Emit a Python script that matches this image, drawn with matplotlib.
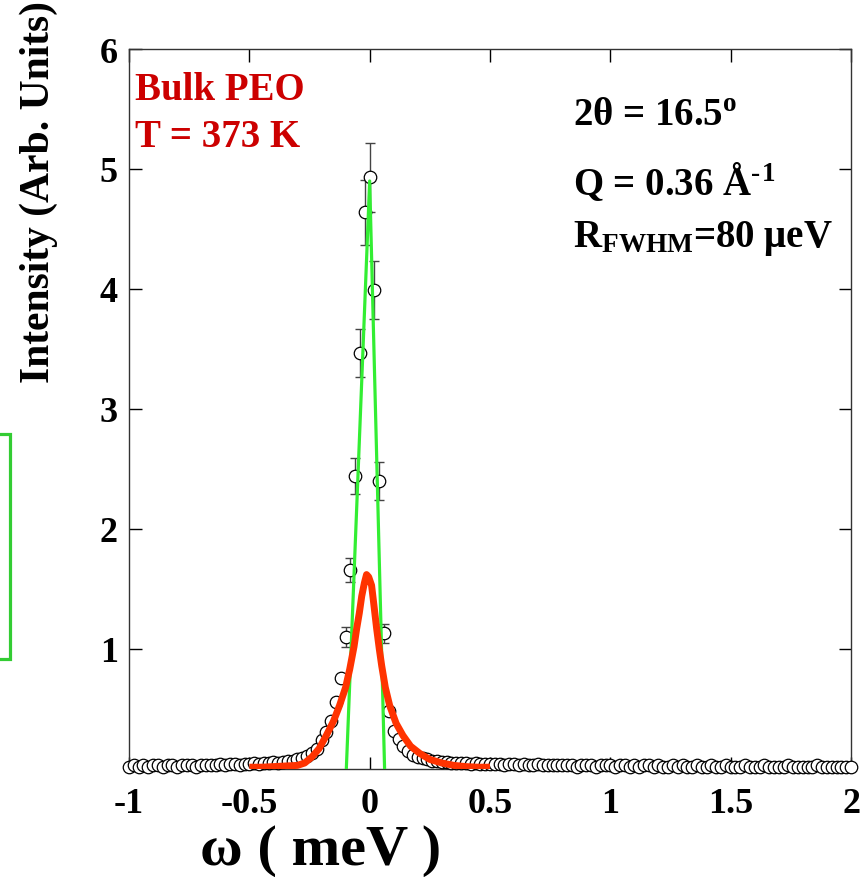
import matplotlib
matplotlib.use('Agg')
import matplotlib.pyplot as plt
from matplotlib.patches import Rectangle

plt.rcParams['font.family'] = ['Liberation Serif', 'DejaVu Serif']
plt.rcParams['font.weight'] = 'bold'
plt.rcParams['mathtext.default'] = 'regular'

# ==============================================================
# DADOS
# ==============================================================

omega = [
    -1.00, -0.98, -0.96, -0.94, -0.92, -0.90, -0.88, -0.86, -0.84, -0.82,
    -0.80, -0.78, -0.76, -0.74, -0.72, -0.70, -0.68, -0.66, -0.64, -0.62,
    -0.60, -0.58, -0.56, -0.54, -0.52, -0.50, -0.48, -0.46, -0.44, -0.42,
    -0.40, -0.38, -0.36, -0.34, -0.32, -0.30, -0.28, -0.26, -0.24, -0.22,
    -0.20, -0.18, -0.16, -0.14, -0.12, -0.10, -0.08, -0.06, -0.04, -0.02,
    0.00, 0.02, 0.04, 0.06, 0.08, 0.10, 0.12, 0.14, 0.16, 0.18,
    0.20, 0.22, 0.24, 0.26, 0.28, 0.30, 0.32, 0.34, 0.36, 0.38,
    0.40, 0.42, 0.44, 0.46, 0.48, 0.50, 0.52, 0.54, 0.56, 0.58,
    0.60, 0.62, 0.64, 0.66, 0.68, 0.70, 0.72, 0.74, 0.76, 0.78,
    0.80, 0.82, 0.84, 0.86, 0.88, 0.90, 0.92, 0.94, 0.96, 0.98,
    1.00, 1.02, 1.04, 1.06, 1.08, 1.10, 1.12, 1.14, 1.16, 1.18,
    1.20, 1.22, 1.24, 1.26, 1.28, 1.30, 1.32, 1.34, 1.36, 1.38,
    1.40, 1.42, 1.44, 1.46, 1.48, 1.50, 1.52, 1.54, 1.56, 1.58,
    1.60, 1.62, 1.64, 1.66, 1.68, 1.70, 1.72, 1.74, 1.76, 1.78,
    1.80, 1.82, 1.84, 1.86, 1.88, 1.90, 1.92, 1.94, 1.96, 1.98,
    2.00,
]

intensidade = [
    0.02, 0.03, 0.02, 0.03, 0.02, 0.03, 0.03, 0.02, 0.03, 0.03,
    0.02, 0.03, 0.03, 0.03, 0.02, 0.03, 0.03, 0.03, 0.03, 0.04,
    0.03, 0.04, 0.04, 0.03, 0.04, 0.04, 0.05, 0.04, 0.05, 0.05,
    0.06, 0.05, 0.06, 0.07, 0.07, 0.08, 0.09, 0.11, 0.13, 0.17,
    0.24, 0.31, 0.40, 0.56, 0.76, 1.10, 1.66, 2.44, 3.47, 4.64,
    4.93, 3.99, 2.40, 1.13, 0.48, 0.32, 0.25, 0.19, 0.15, 0.12,
    0.10, 0.09, 0.08, 0.07, 0.07, 0.06, 0.06, 0.05, 0.05, 0.05,
    0.05, 0.04, 0.05, 0.04, 0.04, 0.04, 0.04, 0.04, 0.03, 0.04,
    0.04, 0.03, 0.04, 0.03, 0.03, 0.04, 0.03, 0.03, 0.03, 0.03,
    0.03, 0.03, 0.03, 0.02, 0.03, 0.03, 0.03, 0.02, 0.03, 0.03,
    0.03, 0.02, 0.03, 0.03, 0.02, 0.03, 0.02, 0.03, 0.03, 0.02,
    0.03, 0.02, 0.02, 0.03, 0.02, 0.03, 0.02, 0.02, 0.03, 0.02,
    0.02, 0.03, 0.02, 0.02, 0.03, 0.02, 0.02, 0.02, 0.03, 0.02,
    0.02, 0.02, 0.03, 0.02, 0.02, 0.02, 0.02, 0.03, 0.02, 0.02,
    0.02, 0.02, 0.02, 0.03, 0.02, 0.02, 0.02, 0.02, 0.02, 0.02,
    0.02,
]

# barras de erro (so os pontos do pico)
erro_omega = [-0.10, -0.08, -0.06, -0.04, -0.02, 0.00, 0.02, 0.04, 0.06]
erro_valor = [0.08, 0.10, 0.15, 0.20, 0.27, 0.29, 0.24, 0.16, 0.08]

# curva vermelha (ajuste)
ajuste_x = [-0.50, -0.45, -0.40, -0.35, -0.30, -0.27, -0.24, -0.21, -0.18,
            -0.15, -0.125, -0.10, -0.083, -0.065, -0.054, -0.043, -0.033,
            -0.022, -0.013, -0.004, 0.008, 0.018, 0.029, 0.04, 0.05, 0.065,
            0.083, 0.11, 0.138, 0.17, 0.208, 0.25, 0.30, 0.35, 0.40, 0.45, 0.50]
ajuste_y = [0.015, 0.015, 0.02, 0.025, 0.03, 0.05, 0.10, 0.17, 0.28,
            0.40, 0.53, 0.68, 0.83, 1.02, 1.17, 1.30, 1.44,
            1.55, 1.62, 1.60, 1.53, 1.36, 1.17, 1.00, 0.86, 0.68,
            0.53, 0.38, 0.28, 0.19, 0.13, 0.08, 0.05, 0.03, 0.02, 0.015, 0.015]

# resolucao (verde)
resol_x = [-0.097, 0.0, 0.062]
resol_y = [0.0, 4.90, 0.0]

# ==============================================================
# GRAFICO
# ==============================================================

fig = plt.figure(figsize=(8.64, 8.78), dpi=100)
ax = fig.add_axes([129 / 864, 108 / 878, 722 / 864, 720 / 878])

erro_y = [intensidade[omega.index(w)] for w in erro_omega]
ax.errorbar(erro_omega, erro_y, yerr=erro_valor, fmt='none',
            ecolor='#444444', elinewidth=1, capsize=3.6, capthick=1, zorder=2)

ax.plot(omega, intensidade, 'o', mfc='white', mec='black', mew=0.9,
        ms=9, clip_on=False, zorder=3)
ax.plot(resol_x, resol_y, color='#33ee33', lw=2.3, zorder=4)
ax.plot(ajuste_x, ajuste_y, color='#ff3300', lw=5,
        solid_capstyle='butt', solid_joinstyle='round', zorder=5)

ax.set_xlim(-1, 2)
ax.set_ylim(0, 6)
ax.set_xticks([-1, -0.5, 0, 0.5, 1, 1.5, 2])
ax.set_xticklabels(['-1', '-0.5', '0', '0.5', '1', '1.5', '2'])
ax.set_yticks([1, 2, 3, 4, 5, 6])

ax.tick_params(direction='in', length=9, width=1, top=True, right=True)
ax.tick_params(axis='x', labelsize=26, pad=13)
ax.tick_params(axis='y', labelsize=26, pad=8)
for s in ax.spines.values():
    s.set_linewidth(1)
    s.set_color('#333333')

ax.set_xlabel('ω ( meV )', fontsize=42, fontweight='bold')
ax.xaxis.label.set_verticalalignment('baseline')
ax.xaxis.set_label_coords(0.265, -0.131)
ax.set_ylabel('Intensity (Arb. Units)', fontsize=30, fontweight='bold')
ax.yaxis.set_label_coords(-0.099, 0.803)

ax.text(0.008, 0.9306, 'Bulk PEO', transform=ax.transAxes, color='#cc0000',
        fontsize=28, fontweight='bold', va='baseline')
ax.text(0.008, 0.865, 'T = 373 K', transform=ax.transAxes, color='#cc0000',
        fontsize=28, fontweight='bold', va='baseline')

ax.text(0.615, 0.896, '2θ = 16.5$^{o}$', transform=ax.transAxes,
        fontsize=28, fontweight='bold', va='baseline')
ax.text(0.615, 0.799, 'Q = 0.36 Å$^{\u2010}$$^{1}$', transform=ax.transAxes,
        fontsize=28, fontweight='bold', va='baseline')
ax.text(0.615, 0.726, 'R$_{FWHM}$=80 μeV', transform=ax.transAxes,
        fontsize=28, fontweight='bold', va='baseline')

# caixa verde cortada na esquerda
fig.add_artist(Rectangle((-30 / 864, 218 / 878), 39.5 / 864, 225 / 878,
                         transform=fig.transFigure, fill=False,
                         edgecolor='#33cc33', lw=2.3, clip_on=False))

fig.savefig('out.png', dpi=100)
